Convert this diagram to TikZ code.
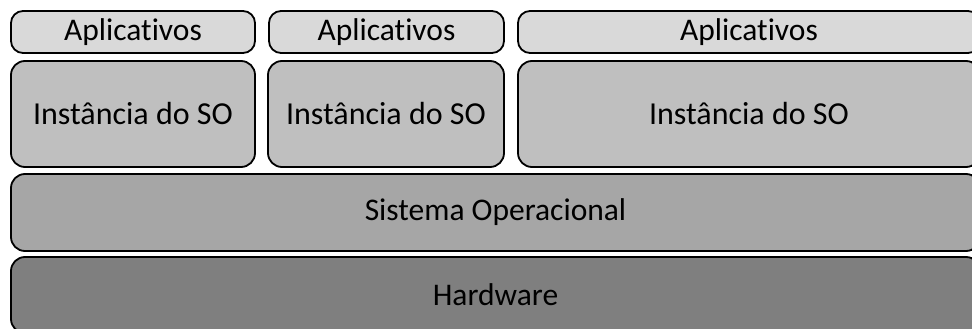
\documentclass[tikz,border=0pt]{standalone}
\usepackage{fontspec}
\setmainfont{Carlito}[Ligatures=NoCommon]
\definecolor{appfill}{HTML}{D9D9D9}
\definecolor{instfill}{HTML}{BFBFBF}
\definecolor{sofill}{HTML}{A6A6A6}
\definecolor{hwfill}{HTML}{7F7F7F}
\tikzset{
  layer/.style={draw=black, line width=1.8pt, rounded corners=12pt, inner sep=0pt},
  apptext/.style={font=\fontsize{31.5}{33}\selectfont},
  insttext/.style={font=\fontsize{32}{34}\selectfont},
}
\begin{document}
\begin{tikzpicture}[x=1pt,y=-1pt]
\useasboundingbox (0,0) rectangle (972,329);
\clip (0,0) rectangle (972,329);
% Aplicativos row
\draw[layer, fill=appfill] (11,11) rectangle (255,53);
\node[apptext] (app1) at (133,32) {Aplicativos};
\draw[layer, fill=appfill] (269,11) rectangle (504,53);
\node[apptext] (app2) at (386.5,32) {Aplicativos};
\draw[layer, fill=appfill] (518,11) rectangle (980,53);
\node[apptext] (app3) at (749,32) {Aplicativos};
% Instancia row
\draw[layer, fill=instfill, rounded corners=14pt] (11,61) rectangle (255,167);
\node[insttext] (inst1) at (133,114) {Instância do SO};
\draw[layer, fill=instfill, rounded corners=14pt] (268,61) rectangle (504,167);
\node[insttext] (inst2) at (386,114) {Instância do SO};
\draw[layer, fill=instfill, rounded corners=14pt] (518,61) rectangle (980,167);
\node[insttext] (inst3) at (749,114) {Instância do SO};
% Sistema Operacional
\draw[layer, fill=sofill, rounded corners=14pt] (11,174) rectangle (980,251);
\node[apptext] (so) at (495.5,212.5) {Sistema Operacional};
% Hardware
\draw[layer, fill=hwfill, rounded corners=14pt] (11,257) rectangle (980,333);
\node[apptext] (hw) at (495.5,295) {Hardware};
\end{tikzpicture}
\end{document}
